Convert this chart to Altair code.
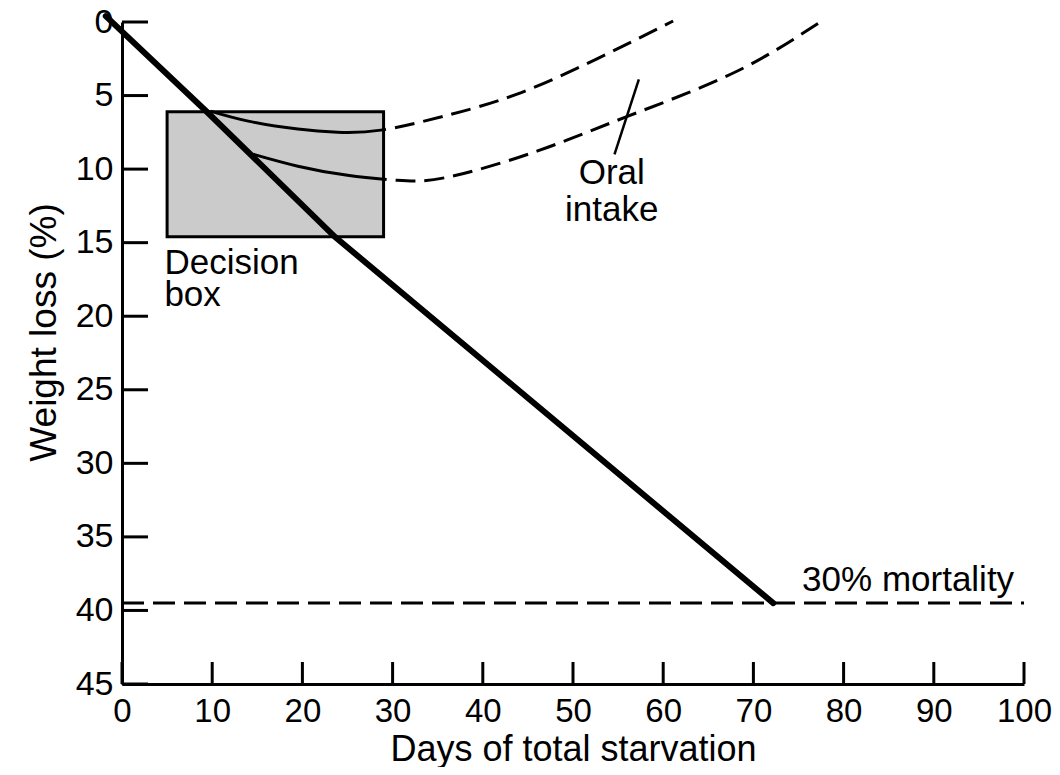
import altair as alt
import pandas as pd

FONT = "Liberation Sans"

# ---- data ----
x_ticks = list(range(0, 101, 10))
y_ticks = list(range(0, 46, 5))

main_x = [-1.8, 9.4, 23.6, 72.2]
main_y = [-0.4, 6.1, 14.6, 39.5]

upper_x = [9.8, 14.0, 19.5, 23.9, 28.7, 35.7, 43.8, 52.6, 61.1]
upper_y = [6.06, 6.74, 7.28, 7.49, 7.35, 6.40, 4.90, 2.52, -0.07]

lower_x = [14.55, 19.5, 25.0, 30.5, 36.1, 46.0, 56.1, 68.0, 77.9]
lower_y = [8.99, 9.80, 10.42, 10.76, 10.55, 8.78, 6.40, 3.40, -0.2]

mortality_x = [0, 100]
mortality_y = [39.5, 39.5]

box_x = [5, 29]
box_y = [6.1, 14.6]

pointer_x = [57.3, 54.6]
pointer_y = [3.9, 9.0]

left_text = ["Decision", "box", "30% mortality"]
left_x = [4.7, 4.7, 75.4]
left_y = [17.15, 19.3, 38.7]

center_text = ["Oral", "intake"]
center_x = [54.3, 54.3]
center_y = [11.0, 13.55]

W, H = 902, 662

xscale = alt.Scale(domain=[0, 100], nice=False, zero=False)
yscale = alt.Scale(domain=[0, 45], nice=False, zero=False, reverse=True)

xaxis = alt.Axis(values=x_ticks, ticks=False, grid=False, domainColor="black",
                 domainWidth=3, labelFont=FONT, labelFontSize=33, labelColor="black",
                 labelPadding=11, labelFlush=False, title="Days of total starvation",
                 titleFont=FONT, titleFontSize=36, titleFontWeight="normal",
                 titleColor="black", titleY=76, titleBaseline="alphabetic")
yaxis = alt.Axis(values=y_ticks, ticks=False, grid=False, domainColor="black",
                 domainWidth=3, labelFont=FONT, labelFontSize=34, labelColor="black",
                 labelPadding=9, labelFlush=False, title="Weight loss (%)",
                 labelExpr="datum.value == 0 ? '0\u00a0\u00a0' : datum.label",
                 titleFont=FONT, titleFontSize=37, titleFontWeight="normal",
                 titleColor="black", titleX=-78, titleY=310, titleAngle=-90,
                 titleBaseline="middle", titleAlign="center")


def X(f="x"):
    return alt.X(f"{f}:Q", scale=xscale, axis=xaxis)


def Y(f="y"):
    return alt.Y(f"{f}:Q", scale=yscale, axis=yaxis)


def dash_pattern(solid_px):
    # first stretch solid (inside the decision box), then regular dashes
    return [solid_px, 9] + [20, 9] * 60


box_df = pd.DataFrame({"x": [box_x[0]], "x2": [box_x[1]], "y": [box_y[0]], "y2": [box_y[1]]})
box = alt.Chart(box_df).mark_rect(fill="#cbcbcb", stroke="black", strokeWidth=3).encode(
    x=X(), x2="x2:Q", y=Y(), y2="y2:Q")

up_df = pd.DataFrame({"x": upper_x, "y": upper_y, "o": range(len(upper_x))})
upper = alt.Chart(up_df).mark_line(color="black", strokeWidth=3, interpolate="natural",
                                   strokeDash=dash_pattern(178)).encode(
    x=X(), y=Y(), order="o:Q")

lo_df = pd.DataFrame({"x": lower_x, "y": lower_y, "o": range(len(lower_x))})
lower = alt.Chart(lo_df).mark_line(color="black", strokeWidth=3, interpolate="natural",
                                   strokeDash=dash_pattern(136)).encode(
    x=X(), y=Y(), order="o:Q")

main_df = pd.DataFrame({"x": main_x, "y": main_y, "o": range(len(main_x))})
main = alt.Chart(main_df).mark_line(color="black", strokeWidth=6, strokeCap="round").encode(
    x=X(), y=Y(), order="o:Q")

mort_df = pd.DataFrame({"x": mortality_x, "y": mortality_y})
mort = alt.Chart(mort_df).mark_line(color="black", strokeWidth=3, strokeDash=[22, 9]).encode(
    x=X(), y=Y())

ptr_df = pd.DataFrame({"x": [pointer_x[0]], "x2": [pointer_x[1]], "y": [pointer_y[0]], "y2": [pointer_y[1]]})
ptr = alt.Chart(ptr_df).mark_rule(color="black", strokeWidth=2.5).encode(
    x=X(), x2="x2:Q", y=Y(), y2="y2:Q")

xt_df = pd.DataFrame({"x": x_ticks})
xt = alt.Chart(xt_df).mark_rule(color="black", strokeWidth=3).encode(
    x=X(), y=alt.value(H), y2=alt.value(H - 22))

yt_df = pd.DataFrame({"y": y_ticks})
yt = alt.Chart(yt_df).mark_rule(color="black", strokeWidth=3).encode(
    y=Y(), x=alt.value(0), x2=alt.value(26))

lt_df = pd.DataFrame({"x": left_x, "y": left_y, "t": left_text})
lt = alt.Chart(lt_df).mark_text(align="left", baseline="alphabetic", font=FONT,
                                fontSize=35, color="black").encode(x=X(), y=Y(), text="t:N")

ct_df = pd.DataFrame({"x": center_x, "y": center_y, "t": center_text})
ct = alt.Chart(ct_df).mark_text(align="center", baseline="alphabetic", font=FONT,
                                fontSize=35, color="black").encode(x=X(), y=Y(), text="t:N")

chart = alt.layer(box, upper, lower, main, mort, ptr, xt, yt, lt, ct).properties(
    width=W, height=H,
    autosize=alt.AutoSizeParams(type="none"),
    padding={"left": 114, "top": 14, "right": 28, "bottom": 83},
    background="white",
).configure_view(stroke=None)

chart.save("out.html", embed_options={"renderer": "svg", "actions": False})
